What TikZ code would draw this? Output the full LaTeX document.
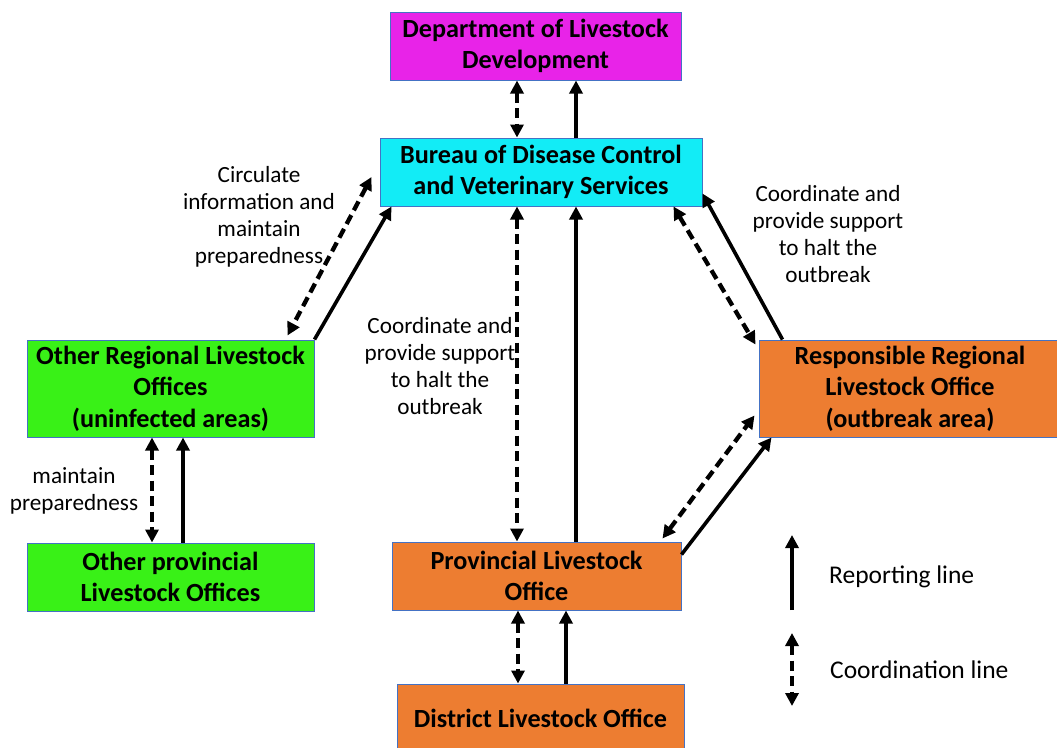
\documentclass[tikz,border=0pt]{standalone}
\usepackage{fontspec}
\setmainfont{Carlito}
\usepackage{tikz}
\usetikzlibrary{arrows.meta,positioning,calc}
\definecolor{magenta}{RGB}{232,35,232}
\definecolor{cian}{RGB}{18,236,246}
\definecolor{verde}{RGB}{57,241,23}
\definecolor{naranja}{RGB}{237,125,49}
\definecolor{borde}{RGB}{68,114,196}

\begin{document}
\begin{tikzpicture}[x=1pt,y=-1pt,
box/.style={draw=borde,line width=1pt,inner sep=0pt,align=center,minimum height=68pt,font=\fontsize{26.2}{31.5}\selectfont\bfseries},
lbl/.style={align=center,inner sep=0pt,font=\fontsize{23.2}{27}\selectfont},
leg/.style={inner sep=0pt,anchor=west,font=\fontsize{25.5}{30}\selectfont},
rep/.style={-{Triangle[length=13pt,width=13pt]},line width=3.6pt},
coord/.style={{Triangle[length=13pt,width=13pt]}-{Triangle[length=13pt,width=13pt]},line width=4.3pt,dash pattern=on 10pt off 5.5pt}
]
\useasboundingbox (0,0) rectangle (1057,747);
\node[box,fill=magenta,minimum width=291pt] (dld) at (535.5,46) {Department of Livestock\\Development};
\node[box,fill=cian,minimum width=322pt] (bdc) at (541,172) {Bureau of Disease Control\\and Veterinary Services};
\node[box,fill=verde,minimum width=287pt,minimum height=97pt] (orlo) at (170.5,388.5) {Other Regional Livestock\\Offices\\(uninfected areas)};
\node[box,fill=verde,minimum width=287pt] (oplo) at (170.5,577) {Other provincial\\Livestock Offices};
\node[box,fill=naranja,minimum width=289pt] (plo) at (536.5,576) {Provincial Livestock\\Office};
\node[box,fill=naranja,minimum width=287pt] (dlo) at (540.5,718) {District Livestock Office};
\node[box,fill=naranja,minimum width=302pt,minimum height=97pt] (rrlo) at (910,388.5) {Responsible Regional\\Livestock Office\\(outbreak area)};
% labels
\node[lbl] (lcirc) at (259,216.5) {Circulate\\information and\\maintain\\preparedness};
\node[lbl] (lright) at (828,234) {Coordinate and\\provide support\\to halt the\\outbreak};
\node[lbl] (lmid) at (440,366.5) {Coordinate and\\provide support\\to halt the\\outbreak};
\node[lbl] (lprep) at (74,491) {maintain\\preparedness};
% lines
\draw[coord] (dld.south -| 517,0) -- (bdc.north -| 517,0);
\draw[rep] (bdc.north -| 576,0) -- (dld.south -| 576,0);
\draw[coord] (bdc.south -| 517,0) -- (plo.north -| 517,0);
\draw[rep] (plo.north -| 576,0) -- (bdc.south -| 576,0);
\draw[coord] ([shift={(-8,5)}]bdc.west) -- ([shift={(-27,-4)}]orlo.north east);
\draw[rep] (orlo.north east) -- ([shift={(12,0)}]bdc.south west);
\draw[coord] ([shift={(-29,0)}]bdc.south east) -- ([shift={(-3,5)}]rrlo.north west);
\draw[rep] ([shift={(24,0)}]rrlo.north west) -- ([shift={(0,-13)}]bdc.south east);
\draw[coord] ([shift={(-19,-3)}]plo.north east) -- ([shift={(-4,-22)}]rrlo.south west);
\draw[rep] ([shift={(0,13)}]plo.north east) -- ([shift={(13,0)}]rrlo.south west);
\draw[coord] (orlo.south -| 152,0) -- (oplo.north -| 152,0);
\draw[rep] (oplo.north -| 183,0) -- (orlo.south -| 183,0);
\draw[coord] (plo.south -| 518,0) -- (dlo.north -| 518,0);
\draw[rep] (dlo.north -| 566,0) -- (plo.south -| 566,0);
% legend
\coordinate (r1) at (792,610);
\coordinate (r2) at (792,535);
\coordinate (c1) at (792,633);
\coordinate (c2) at (792,706);
\draw[rep] (r1) -- (r2);
\draw[coord] (c1) -- (c2);
\node[leg] (lrep) at (829,577) {Reporting line};
\node[leg] (lcoord) at (830,670) {Coordination line};
\end{tikzpicture}
\end{document}
